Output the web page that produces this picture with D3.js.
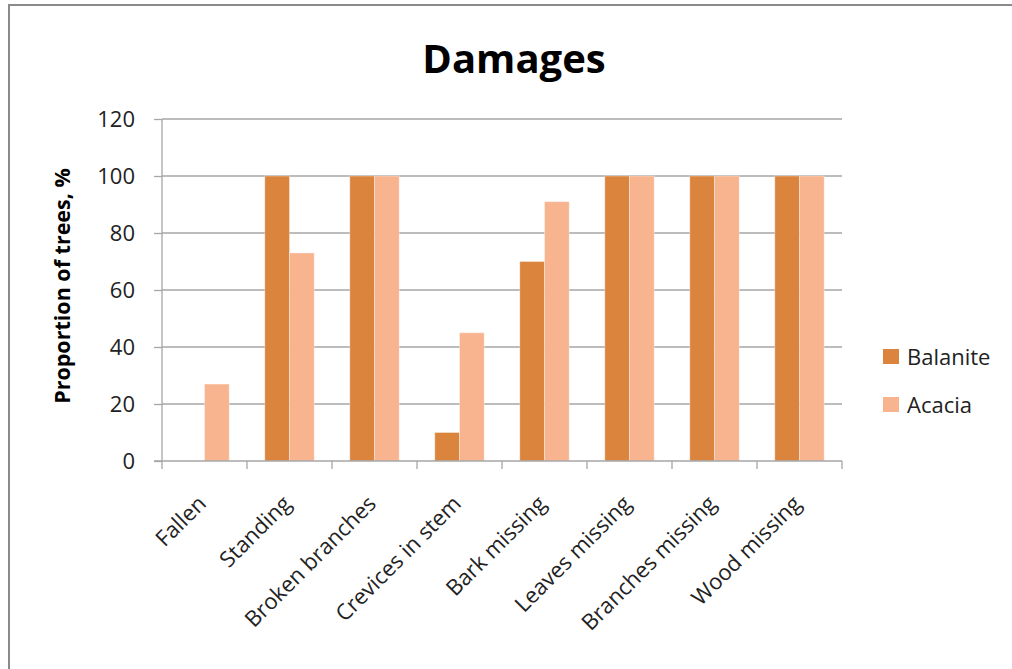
<!DOCTYPE html>
<html>
<head>
<meta charset="utf-8">
<script src="https://cdn.jsdelivr.net/npm/d3@7"></script>
<style>
  body { margin: 0; background: #fff; }
  text { font-family: "Open Sans", Lato, sans-serif; fill: #222; }
</style>
</head>
<body>
<div id="chart"></div>
<script>
var categories = ["Fallen", "Standing", "Broken branches", "Crevices in stem",
  "Bark missing", "Leaves missing", "Branches missing", "Wood missing"];
var balanite = [0, 100, 100, 10, 70, 100, 100, 100];
var acacia = [27, 73, 100, 45, 91, 100, 100, 100];
var seriesNames = ["Balanite", "Acacia"];
var seriesColors = ["#DB843D", "#F8B48F"];
var yTicks = [0, 20, 40, 60, 80, 100, 120];

var width = 1012, height = 669;
var plot = { left: 162, right: 842, top: 119, bottom: 461 };

var svg = d3.select("#chart").append("svg")
  .attr("width", width)
  .attr("height", height);

// outer frame
svg.append("rect")
  .attr("x", 9).attr("y", 5)
  .attr("width", 1020).attr("height", 700)
  .style("fill", "none")
  .style("stroke", "#8a8a8a")
  .style("stroke-width", 2);

svg.append("text")
  .attr("x", 514).attr("y", 73)
  .attr("text-anchor", "middle")
  .attr("font-size", "40px")
  .attr("font-weight", "bold")
  .style("fill", "#000")
  .text("Damages");

var x0 = d3.scaleBand().domain(categories).range([plot.left, plot.right]);
var x1 = d3.scaleBand().domain(seriesNames).range([0, x0.bandwidth()])
  .paddingInner(0).paddingOuter(0.72);
var y = d3.scaleLinear().domain([0, 120]).range([plot.bottom, plot.top]);

// gridlines
svg.append("g")
  .selectAll("line").data(yTicks.slice(1))
  .enter().append("line")
  .attr("x1", plot.left).attr("x2", plot.right)
  .attr("y1", function (d) { return y(d); })
  .attr("y2", function (d) { return y(d); })
  .style("stroke", "#a6a6a6")
  .style("stroke-width", 1.3);

// bars
var rows = categories.map(function (c, i) {
  return { cat: c, values: [balanite[i], acacia[i]] };
});

var groups = svg.append("g").selectAll("g").data(rows)
  .enter().append("g")
  .attr("transform", function (d) { return "translate(" + x0(d.cat) + ",0)"; });

groups.selectAll("rect")
  .data(function (d) { return d.values.map(function (v, j) { return { name: seriesNames[j], v: v, j: j }; }); })
  .enter().append("rect")
  .filter(function (d) { return d.v > 0; })
  .attr("x", function (d) { return x1(d.name); })
  .attr("y", function (d) { return y(d.v); })
  .attr("width", x1.bandwidth())
  .attr("height", function (d) { return y(0) - y(d.v); })
  .style("fill", function (d) { return seriesColors[d.j]; })
  .style("stroke", "#fff")
  .style("stroke-opacity", 0.35)
  .style("stroke-width", 1);

// y axis
var yAxis = svg.append("g")
  .attr("transform", "translate(" + plot.left + ",0)")
  .call(d3.axisLeft(y).tickValues(yTicks).tickSize(8).tickPadding(19));
yAxis.selectAll("text").attr("font-size", "22px").attr("dy", "0.36em").style("fill", "#222");
yAxis.selectAll("line, path").style("stroke", "#a6a6a6").style("stroke-width", 1.3);
yAxis.select("path").attr("d", "M0," + plot.top + "V" + plot.bottom);

// x axis
var xTickPos = categories.map(function (c) { return x0(c); }).concat([plot.right]);
var xAxis = svg.append("g");
xAxis.append("line")
  .attr("x1", plot.left - 8).attr("x2", plot.right)
  .attr("y1", plot.bottom).attr("y2", plot.bottom)
  .style("stroke", "#a6a6a6").style("stroke-width", 1.3);
xAxis.selectAll("line.tick").data(xTickPos)
  .enter().append("line")
  .attr("class", "tick")
  .attr("x1", function (d) { return d; }).attr("x2", function (d) { return d; })
  .attr("y1", plot.bottom).attr("y2", plot.bottom + 8)
  .style("stroke", "#a6a6a6").style("stroke-width", 1.3);

xAxis.selectAll("text").data(categories)
  .enter().append("text")
  .attr("text-anchor", "end")
  .attr("font-size", "22px")
  .attr("transform", function (d) {
    return "translate(" + (x0(d) + x0.bandwidth() / 2 + 3) + "," + (plot.bottom + 44) + ") rotate(-45)";
  })
  .text(function (d) { return d; });

// y label
svg.append("text")
  .attr("transform", "translate(70," + ((plot.top + plot.bottom) / 2 - 4) + ") rotate(-90)")
  .attr("text-anchor", "middle")
  .attr("font-size", "21.5px")
  .attr("font-weight", "bold")
  .style("fill", "#000")
  .text("Proportion of trees, %");

// legend
var legend = svg.append("g").selectAll("g").data(seriesNames)
  .enter().append("g")
  .attr("transform", function (d, i) { return "translate(883," + (349 + i * 48) + ")"; });
legend.append("rect")
  .attr("width", 16).attr("height", 15)
  .style("fill", function (d, i) { return seriesColors[i]; });
legend.append("text")
  .attr("x", 24).attr("y", 16)
  .attr("font-size", "22px")
  .text(function (d) { return d; });
</script>
</body>
</html>
